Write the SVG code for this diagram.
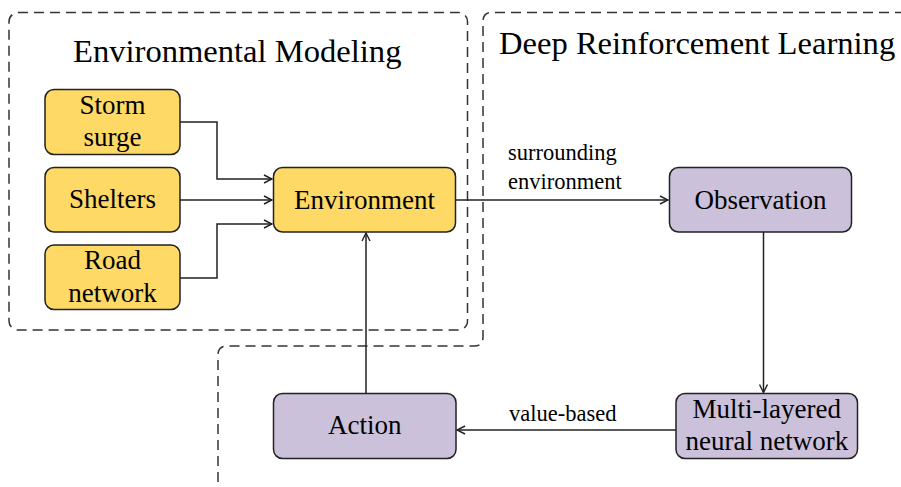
<svg xmlns="http://www.w3.org/2000/svg" width="901" height="487" viewBox="0 0 901 487">
<style>
text{font-family:"Liberation Serif","Times New Roman",serif;fill:#000}
.title{font-size:32.6px}
.lbl{font-size:27px;text-anchor:middle}
.elbl{font-size:22.5px}
.region{fill:none;stroke:#333;stroke-width:1.5;stroke-dasharray:10,6}
.y{fill:#FFD966;stroke:#222;stroke-width:1.5}
.p{fill:#CCC1DA;stroke:#222;stroke-width:1.5}
.c{fill:none;stroke:#222;stroke-width:1.5}
</style>
<defs>
<marker id="ah" viewBox="0 0 10 10" refX="9" refY="5" markerWidth="10" markerHeight="10" markerUnits="userSpaceOnUse" orient="auto">
<path d="M1,1 L9,5 L1,9" fill="none" stroke="#222" stroke-width="1.4"/>
</marker>
</defs>
<rect width="901" height="487" fill="#fff"/>
<g id="regions">
<rect class="region" x="9" y="12.5" width="458.5" height="317.5" rx="9"/>
<path class="region" d="M905,12.5 H492 Q483,12.5 483,21.5 V337 Q483,346 474,346 H227 Q218,346 218,355 V490"/>
<text class="title" x="73" y="61.5">Environmental Modeling</text>
<text class="title" x="499" y="54">Deep Reinforcement Learning</text>
</g>
<g id="connectors">
<path class="c" d="M180,122 H217 V179 H272" marker-end="url(#ah)"/>
<path class="c" d="M180,200 H272" marker-end="url(#ah)"/>
<path class="c" d="M180,278 H217 V224 H272" marker-end="url(#ah)"/>
<path class="c" d="M456,200 H668" marker-end="url(#ah)"/>
<path class="c" d="M763.5,232 V392.5" marker-end="url(#ah)"/>
<path class="c" d="M676,430 H457" marker-end="url(#ah)"/>
<path class="c" d="M366,393 V233" marker-end="url(#ah)"/>
<text class="elbl" x="508" y="160">surrounding</text>
<text class="elbl" x="508" y="188.5">environment</text>
<text class="elbl" x="509" y="420.5">value-based</text>
</g>
<g id="storm">
<rect class="y" x="45" y="89.5" width="135" height="65" rx="9"/>
<text class="lbl" x="112.5" y="113.5">Storm</text>
<text class="lbl" x="112.5" y="145.5">surge</text>
</g>
<g id="shelters">
<rect class="y" x="45" y="167.5" width="135" height="64.5" rx="9"/>
<text class="lbl" x="112.5" y="207.5">Shelters</text>
</g>
<g id="road">
<rect class="y" x="45" y="245" width="135" height="64.5" rx="9"/>
<text class="lbl" x="112.5" y="268.5">Road</text>
<text class="lbl" x="112.5" y="301.5">network</text>
</g>
<g id="environment">
<rect class="y" x="273.5" y="167.5" width="182" height="64.5" rx="9"/>
<text class="lbl" x="364.5" y="208.5">Environment</text>
</g>
<g id="observation">
<rect class="p" x="669.5" y="167.5" width="182" height="64.5" rx="9"/>
<text class="lbl" x="760.5" y="208.5">Observation</text>
</g>
<g id="network">
<rect class="p" x="676" y="393.5" width="181.5" height="65" rx="9"/>
<text class="lbl" x="766.8" y="418">Multi-layered</text>
<text class="lbl" x="766.8" y="450">neural network</text>
</g>
<g id="action">
<rect class="p" x="273.5" y="393.5" width="182.5" height="65" rx="9"/>
<text class="lbl" x="364.8" y="433.5">Action</text>
</g>
</svg>
